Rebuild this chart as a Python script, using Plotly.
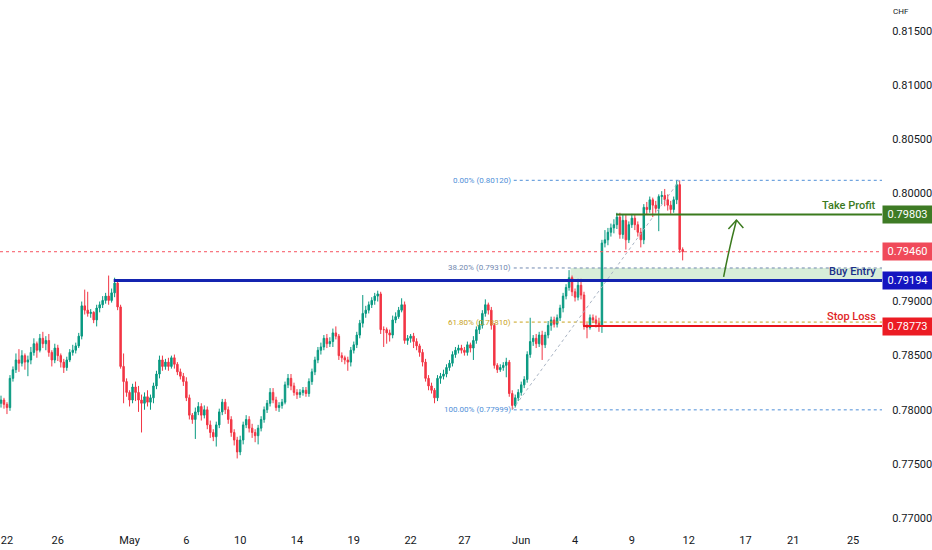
import plotly.graph_objects as go

# 4h candles
first_open = 0.7806
closes = [
    0.7809, 0.7805, 0.7802, 0.7829, 0.7837, 0.7846, 0.7843, 0.7850, 0.7844, 0.7846,
    0.7853, 0.7861, 0.7855, 0.7866, 0.7861, 0.7864, 0.7853, 0.7846, 0.7857, 0.7850,
    0.7844, 0.7839, 0.7846, 0.7853, 0.7855, 0.7859, 0.7868, 0.7896, 0.7892, 0.7889,
    0.7890, 0.7883, 0.7894, 0.7897, 0.7901, 0.7905, 0.7901, 0.7908, 0.7917, 0.7895,
    0.7840, 0.7826, 0.7816, 0.7809, 0.7821, 0.7816, 0.7809, 0.7806, 0.7812, 0.7807,
    0.7811, 0.7822, 0.7833, 0.7846, 0.7840, 0.7844, 0.7840, 0.7848, 0.7842, 0.7835,
    0.7831, 0.7826, 0.7811, 0.7795, 0.7791, 0.7798, 0.7803, 0.7795, 0.7800, 0.7786,
    0.7779, 0.7775, 0.7786, 0.7798, 0.7807, 0.7800, 0.7791, 0.7779, 0.7772, 0.7761,
    0.7772, 0.7786, 0.7791, 0.7783, 0.7779, 0.7776, 0.7783, 0.7791, 0.7800, 0.7806,
    0.7816, 0.7809, 0.7802, 0.7804, 0.7807, 0.7823, 0.7829, 0.7822, 0.7816, 0.7814,
    0.7816, 0.7818, 0.7815, 0.7826, 0.7835, 0.7846, 0.7855, 0.7858, 0.7866, 0.7861,
    0.7863, 0.7871, 0.7868, 0.7850, 0.7848, 0.7846, 0.7844, 0.7855, 0.7860, 0.7869,
    0.7880, 0.7889, 0.7892, 0.7897, 0.7901, 0.7905, 0.7907, 0.7874, 0.7874, 0.7871,
    0.7869, 0.7883, 0.7886, 0.7892, 0.7897, 0.7864, 0.7866, 0.7868, 0.7863, 0.7859,
    0.7853, 0.7844, 0.7829, 0.7822, 0.7818, 0.7811, 0.7829, 0.7831, 0.7833, 0.7839,
    0.7843, 0.7851, 0.7855, 0.7857, 0.7855, 0.7853, 0.7860, 0.7857, 0.7864, 0.7874,
    0.7878, 0.7889, 0.7897, 0.7892, 0.7878, 0.7841, 0.7837, 0.7839, 0.7841, 0.7844,
    0.7815, 0.7804, 0.7811, 0.7816, 0.7823, 0.7828, 0.7851, 0.7863, 0.7866, 0.7861,
    0.7869, 0.7860, 0.7869, 0.7878, 0.7883, 0.7879, 0.7885, 0.7894, 0.7905, 0.7913,
    0.7922, 0.7909, 0.7904, 0.7915, 0.7906, 0.7878, 0.7876, 0.7885, 0.7883, 0.7880,
    0.7877, 0.7954, 0.7957, 0.7964, 0.7968, 0.7971, 0.7978, 0.7962, 0.7975, 0.7957,
    0.7971, 0.7977, 0.7971, 0.7964, 0.7957, 0.7987, 0.7985, 0.7994, 0.7989, 0.7986,
    0.7997, 0.7998, 0.7994, 0.7989, 0.7985, 0.7994, 0.8008, 0.7948, 0.7946,
]
highs = [
    0.7813, 0.7811, 0.7807, 0.7832, 0.7840, 0.7852, 0.7856, 0.7855, 0.7852, 0.7850,
    0.7858, 0.7866, 0.7863, 0.7870, 0.7872, 0.7868, 0.7870, 0.7855, 0.7861, 0.7860,
    0.7852, 0.7847, 0.7849, 0.7856, 0.7860, 0.7862, 0.7871, 0.7900, 0.7911, 0.7909,
    0.7893, 0.7891, 0.7897, 0.7900, 0.7905, 0.7908, 0.7924, 0.7912, 0.7922, 0.7920,
    0.7897, 0.7852, 0.7829, 0.7818, 0.7824, 0.7826, 0.7822, 0.7814, 0.7816, 0.7818,
    0.7814, 0.7825, 0.7836, 0.7850, 0.7850, 0.7847, 0.7848, 0.7850, 0.7851, 0.7844,
    0.7838, 0.7834, 0.7830, 0.7814, 0.7797, 0.7802, 0.7807, 0.7806, 0.7804, 0.7803,
    0.7790, 0.7782, 0.7789, 0.7801, 0.7810, 0.7810, 0.7803, 0.7794, 0.7782, 0.7775,
    0.7776, 0.7789, 0.7795, 0.7794, 0.7787, 0.7782, 0.7786, 0.7794, 0.7803, 0.7809,
    0.7820, 0.7820, 0.7812, 0.7807, 0.7810, 0.7826, 0.7833, 0.7833, 0.7825, 0.7819,
    0.7819, 0.7821, 0.7821, 0.7829, 0.7838, 0.7849, 0.7858, 0.7862, 0.7869, 0.7870,
    0.7867, 0.7875, 0.7877, 0.7870, 0.7853, 0.7850, 0.7849, 0.7858, 0.7863, 0.7872,
    0.7883, 0.7906, 0.7896, 0.7900, 0.7904, 0.7908, 0.7910, 0.7909, 0.7877, 0.7876,
    0.7874, 0.7887, 0.7890, 0.7895, 0.7903, 0.7900, 0.7869, 0.7870, 0.7871, 0.7866,
    0.7861, 0.7856, 0.7847, 0.7832, 0.7825, 0.7820, 0.7832, 0.7834, 0.7837, 0.7842,
    0.7846, 0.7854, 0.7858, 0.7860, 0.7860, 0.7858, 0.7863, 0.7862, 0.7868, 0.7877,
    0.7882, 0.7892, 0.7902, 0.7899, 0.7895, 0.7880, 0.7843, 0.7842, 0.7844, 0.7848,
    0.7846, 0.7818, 0.7814, 0.7819, 0.7826, 0.7831, 0.7854, 0.7885, 0.7869, 0.7870,
    0.7872, 0.7873, 0.7872, 0.7882, 0.7886, 0.7886, 0.7888, 0.7897, 0.7908, 0.7916,
    0.7929, 0.7924, 0.7912, 0.7921, 0.7921, 0.7909, 0.7880, 0.7888, 0.7888, 0.7887,
    0.7885, 0.7957, 0.7966, 0.7968, 0.7972, 0.7976, 0.7982, 0.7982, 0.7980, 0.7980,
    0.7974, 0.7981, 0.7980, 0.7974, 0.7968, 0.7990, 0.7992, 0.7997, 0.7996, 0.7993,
    0.7999, 0.8002, 0.8004, 0.7999, 0.7993, 0.7997, 0.8012, 0.8012, 0.7950,
]
lows = [
    0.7802, 0.7801, 0.7796, 0.7799, 0.7826, 0.7834, 0.7835, 0.7840, 0.7837, 0.7831,
    0.7842, 0.7850, 0.7848, 0.7853, 0.7857, 0.7855, 0.7849, 0.7840, 0.7843, 0.7845,
    0.7839, 0.7834, 0.7836, 0.7844, 0.7850, 0.7852, 0.7857, 0.7865, 0.7888, 0.7886,
    0.7885, 0.7880, 0.7877, 0.7890, 0.7894, 0.7898, 0.7897, 0.7899, 0.7904, 0.7892,
    0.7838, 0.7806, 0.7812, 0.7803, 0.7806, 0.7808, 0.7798, 0.7779, 0.7800, 0.7803,
    0.7800, 0.7806, 0.7819, 0.7829, 0.7836, 0.7837, 0.7836, 0.7838, 0.7838, 0.7832,
    0.7828, 0.7822, 0.7808, 0.7791, 0.7787, 0.7773, 0.7795, 0.7790, 0.7792, 0.7782,
    0.7774, 0.7771, 0.7766, 0.7783, 0.7795, 0.7796, 0.7787, 0.7775, 0.7767, 0.7755,
    0.7758, 0.7768, 0.7783, 0.7779, 0.7774, 0.7770, 0.7768, 0.7780, 0.7788, 0.7797,
    0.7803, 0.7806, 0.7799, 0.7798, 0.7801, 0.7805, 0.7820, 0.7818, 0.7813, 0.7810,
    0.7811, 0.7813, 0.7812, 0.7812, 0.7823, 0.7832, 0.7843, 0.7851, 0.7855, 0.7857,
    0.7858, 0.7858, 0.7865, 0.7846, 0.7844, 0.7842, 0.7836, 0.7840, 0.7852, 0.7857,
    0.7866, 0.7876, 0.7885, 0.7889, 0.7894, 0.7897, 0.7900, 0.7870, 0.7858, 0.7861,
    0.7863, 0.7866, 0.7880, 0.7884, 0.7890, 0.7861, 0.7860, 0.7862, 0.7857, 0.7855,
    0.7849, 0.7840, 0.7826, 0.7818, 0.7815, 0.7806, 0.7808, 0.7824, 0.7828, 0.7830,
    0.7836, 0.7840, 0.7848, 0.7852, 0.7852, 0.7850, 0.7850, 0.7853, 0.7846, 0.7861,
    0.7870, 0.7875, 0.7886, 0.7888, 0.7874, 0.7838, 0.7834, 0.7835, 0.7836, 0.7830,
    0.7812, 0.77999, 0.7802, 0.7808, 0.7813, 0.7820, 0.7825, 0.7848, 0.7859, 0.7857,
    0.7858, 0.7846, 0.7857, 0.7866, 0.7873, 0.7876, 0.7876, 0.7882, 0.7890, 0.7902,
    0.7910, 0.7905, 0.7900, 0.7901, 0.7902, 0.7874, 0.7866, 0.7874, 0.7880, 0.7876,
    0.7872, 0.7871, 0.7950, 0.7952, 0.7960, 0.7963, 0.7967, 0.7958, 0.7958, 0.7948,
    0.7954, 0.7968, 0.7966, 0.7960, 0.7950, 0.7953, 0.7980, 0.7982, 0.7978, 0.7982,
    0.7965, 0.7990, 0.7988, 0.7984, 0.7981, 0.7982, 0.7990, 0.7945, 0.7938,
]
opens = [first_open] + closes[:-1]
bars = list(range(len(closes)))

tick_bars = [2, 19, 43, 62, 80, 99, 118, 137, 155, 174, 192, 211, 230, 249, 265, 285]
tick_text = ["22", "26", "May", "6", "10", "14", "19", "22", "27", "Jun",
             "4", "9", "12", "17", "21", "25"]
price_ticks = [0.770, 0.775, 0.780, 0.785, 0.790, 0.795, 0.800, 0.805, 0.810, 0.815]

take_profit = 0.79803
buy_entry = 0.79194
stop_loss = 0.78773
last_price = 0.79460
fib_levels = [0.80120, 0.79310, 0.78810, 0.77999]
fib_names = ["0.00%", "38.20%", "61.80%", "100.00%"]
fib_colors = ["#4f8fd8", "#7288b0", "#c9a21c", "#4f8fd8"]

x_range = [-1 / 3, 294.67]
y_range = [0.76935, 0.81786]
FONT = "Roboto"

fig = go.Figure(data=[go.Candlestick(x=bars, open=opens, high=highs, low=lows, close=closes,
                increasing=dict(line=dict(color="#089981", width=1), fillcolor="#089981"),
                decreasing=dict(line=dict(color="#F23645", width=1), fillcolor="#F23645"),
                whiskerwidth=0, hoverinfo="skip")])

# buy-entry zone and levels
fig.add_shape(type="rect", x0=190.5, x1=x_range[1], y0=buy_entry, y1=fib_levels[1],
              fillcolor="rgba(76,175,80,0.22)", line_width=0, layer="below")
fig.add_shape(type="line", xref="paper", x0=0, x1=1, y0=last_price, y1=last_price,
              line=dict(color="#f7525f", width=1, dash="dot"))
for lvl, col in zip(fib_levels, fib_colors):
    fig.add_shape(type="line", x0=171.5, x1=x_range[1], y0=lvl, y1=lvl,
                  line=dict(color=col, width=1, dash="dot"))
fig.add_shape(type="line", x0=171, x1=227, y0=fib_levels[3], y1=fib_levels[0],
              line=dict(color="#a9b4c4", width=1, dash="dot"))
fig.add_shape(type="line", x0=37.7, x1=x_range[1], y0=buy_entry, y1=buy_entry,
              line=dict(color="#1424b0", width=3))
fig.add_shape(type="line", x0=205.7, x1=x_range[1], y0=take_profit, y1=take_profit,
              line=dict(color="#3b7a1e", width=2))
fig.add_shape(type="line", x0=194.7, x1=x_range[1], y0=stop_loss, y1=stop_loss,
              line=dict(color="#e8141c", width=2))

# green arrow
fig.add_shape(type="path", path="M 241.7 0.79227 Q 243.6 0.7950 246 0.79753",
              line=dict(color="#3b7a1e", width=1.5))
fig.add_shape(type="path", path="M 243.3 0.79670 L 246 0.79753 L 248.3 0.79679",
              line=dict(color="#3b7a1e", width=1.5))

for lvl, name, col in zip(fib_levels, fib_names, fib_colors):
    fig.add_annotation(x=171.5, y=lvl, xanchor="right", xshift=-1, showarrow=False,
                       text=f"{name} ({lvl:.5f})", font=dict(family=FONT, size=8, color=col))

for txt, lvl, col in [("Take Profit", take_profit, "#3b7a1e"),
                      ("Buy Entry", buy_entry, "#1a2f8a"),
                      ("Stop Loss", stop_loss, "#e01f26")]:
    fig.add_annotation(xref="paper", x=1, y=lvl, xanchor="right", yanchor="bottom",
                       xshift=-4, yshift=1, showarrow=False, text=txt,
                       font=dict(family=FONT, size=11, color=col, weight=500))

for lvl, col in [(take_profit, "#3e7b25"), (last_price, "#f04a5a"),
                 (buy_entry, "#1414c0"), (stop_loss, "#ec1c24")]:
    fig.add_annotation(xref="paper", x=1, y=lvl, xanchor="left", showarrow=False,
                       text=f"{lvl:.5f}", bgcolor=col, width=47, height=15,
                       font=dict(family=FONT, size=11, color="white"))

fig.add_annotation(xref="paper", yref="paper", x=1, y=1, xanchor="left", yanchor="top",
                   xshift=9, yshift=-5, showarrow=False, text="CHF",
                   font=dict(family=FONT, size=8, color="#131722"))

fig.update_layout(width=932, height=550, margin=dict(l=0, r=47, t=0, b=25),
                  paper_bgcolor="white", plot_bgcolor="white", showlegend=False,
                  font=dict(family=FONT, size=11, color="#131722"))
fig.update_xaxes(range=x_range, rangeslider_visible=False, showgrid=False, zeroline=False,
                 tickmode="array", tickvals=tick_bars, ticktext=tick_text,
                 ticks="outside", ticklen=5, tickcolor="white")
fig.update_yaxes(range=y_range, side="right", showgrid=False, zeroline=False,
                 tickmode="array", tickvals=price_ticks, tickformat=".5f",
                 ticks="outside", ticklen=7, tickcolor="white")

# page has a default body margin; drop it so the figure fills the window
fig.write_html("out.html", config={"displayModeBar": False},
               post_script="document.body.style.margin='0';")
